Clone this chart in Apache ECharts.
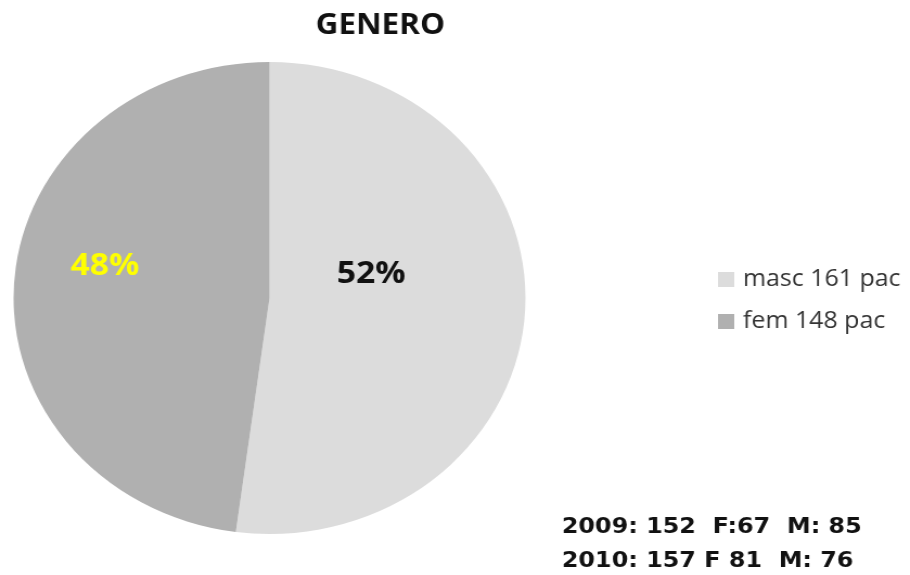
<!DOCTYPE html>
<html>
<head>
<meta charset="utf-8">
<script src="https://cdn.jsdelivr.net/npm/echarts@6/dist/echarts.min.js"></script>
<style>
  html, body { margin: 0; padding: 0; background: #fff; overflow: hidden; }
  /* the source picture is stretched sideways, so the whole chart is too */
  #chart { width: 839px; height: 575px; transform: scaleX(1.0846); transform-origin: 0 0; }
</style>
</head>
<body>
<div id="chart"></div>
<script>
// data
const titleText = 'GENERO';
const categories = ['masc 161 pac', 'fem 148 pac'];
const patients = [161, 148];
const sliceColors = ['#dcdcdc', '#b0b0b0'];
const labelColors = ['#111111', '#ffff00'];
const notes = ['2009: 152  F:67  M: 85', '2010: 157 F 81  M: 76'];

const font = '"Open Sans", "Noto Sans", sans-serif';
const labelOffsets = [[-27, -32], [-31, -24]];

const chartInstance = echarts.init(document.getElementById('chart'));

const option = {
  animation: false,
  title: {
    text: titleText,
    left: 286,
    top: 6,
    textStyle: { fontFamily: font, fontSize: 29, fontWeight: 'bold', color: '#111' }
  },
  legend: {
    orient: 'vertical',
    left: 657,
    top: 263,
    itemWidth: 15,
    itemHeight: 15,
    itemGap: 19,
    icon: 'rect',
    selectedMode: false,
    data: categories,
    textStyle: { fontFamily: font, fontSize: 23, color: '#333', padding: [0, 0, 0, 3] }
  },
  graphic: notes.map((t, i) => ({
    type: 'text',
    left: 518,
    top: 516 + i * 34,
    style: { text: t, fontFamily: '"DejaVu Sans", sans-serif', fontSize: 22, fontWeight: 'bold', fill: '#111' }
  })),
  series: [
    {
      type: 'pie',
      center: [248.5, 298],
      radius: 236,
      startAngle: 90,
      clockwise: true,
      percentPrecision: 0,
      emphasis: { disabled: true },
      label: {
        show: true,
        position: 'inside',
        formatter: '{d}%',
        fontFamily: font,
        fontSize: 31,
        fontWeight: 'bold'
      },
      labelLine: { show: false },
      data: categories.map((name, i) => ({
        name: name,
        value: patients[i],
        itemStyle: { color: sliceColors[i] },
        label: { color: labelColors[i], offset: labelOffsets[i] }
      }))
    }
  ]
};
chartInstance.setOption(option);
</script>
</body>
</html>
